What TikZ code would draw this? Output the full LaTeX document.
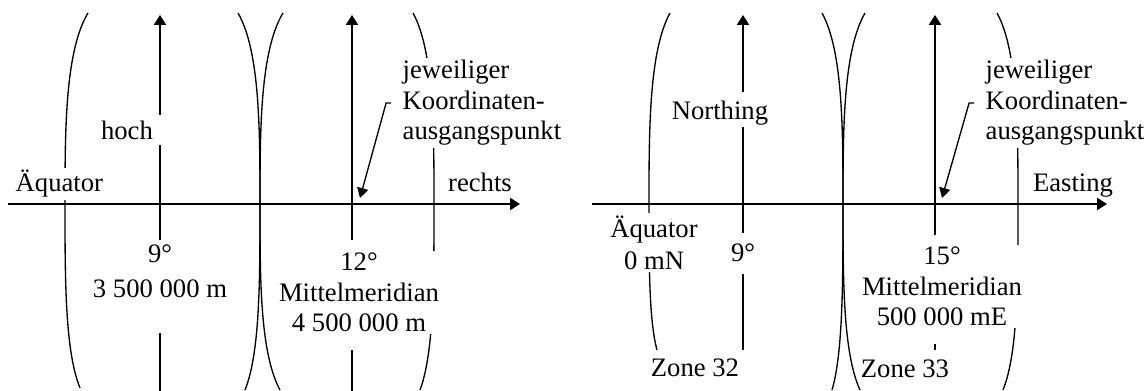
\documentclass[tikz,border=0pt]{standalone}
\usepackage{fontspec}
\setmainfont{Liberation Serif}
\usetikzlibrary{arrows.meta}

\tikzset{
  lbl/.style={fill=white, inner sep=1pt, align=center},
  meridian/.style={semithick},
  achse/.style={thick, -{Triangle[length=4.5pt, width=5.5pt]}},
  pfeil/.style={semithick, -{Triangle[length=4.5pt, width=5pt]}},
}

\begin{document}
\begin{tikzpicture}[x=0.45pt, y=0.45pt, font=\fontsize{12}{13.8}\selectfont]
  \useasboundingbox (0,0) rectangle (1146,391);

  % Zonengrenzen
  \foreach \a/\m/\b/\e in {88/65/80/3, 238/260/245/1, 283/260/280/1, 413/434/420/1,
                           670/649/657/41, 822/843/832/1, 865/843/860/1, 997/1018/1003/1}
    \draw[meridian] (\a, 378) .. controls (\m, 340) and (\m, 260) .. (\m, 187)
      .. controls (\m, {187 - 0.41*(187-\e)}) and (\m, {\e + 0.2*(187-\e)}) .. (\b, \e);

  % linkes Bild
  \node[lbl, anchor=base west] (aeq1) at (13, 199) {Äquator};
  \node[lbl, anchor=base] (hoch) at (127, 251) {hoch};
  \node[lbl, anchor=base] (mm9) at (160, 93) {9°\\[2pt]3 500 000 m};
  \node[lbl, anchor=base] (mm12) at (359, 59) {12°\\Mittelmeridian\\4 500 000 m};
  \node[lbl, anchor=base west, align=left] (k1) at (400, 251) {jeweiliger\\Koordinaten-\\ausgangspunkt};
  \node[lbl, anchor=base] (rechts) at (480, 199) {rechts};

  % rechtes Bild
  \node[lbl, anchor=base] (north) at (720, 271) {Northing};
  \node[lbl, anchor=base] (aeq2) at (654, 121) {Äquator\\[1pt]0 mN};
  \node[lbl, anchor=base] (z9) at (743, 129) {9°};
  \node[lbl, anchor=base] (zone32) at (695, 14) {Zone 32};
  \node[lbl, anchor=base] (mm15) at (942, 65) {15°\\Mittelmeridian\\500 000 mE};
  \node[lbl, anchor=base] (zone33) at (905, 13) {Zone 33};
  \node[lbl, anchor=base west, align=left] (k2) at (983, 251) {jeweiliger\\Koordinaten-\\ausgangspunkt};
  \node[lbl, anchor=base] (east) at (1073, 199) {Easting};

  % Achsen
  \draw[achse] (8, 187) -- (520, 187);
  \draw[achse] (592, 187) -- (1107, 187);

  \draw[thick] (160, 0) -- (160, 58);
  \draw[thick] (160, 151) -- (160, 246);
  \draw[achse] (160, 276) -- (160, 376);
  \draw[thick] (352, 0) -- (352, 41);
  \draw[achse] (352, 151) -- (352, 376);

  \draw[thick] (743, 41) -- (743, 117);
  \draw[thick] (743, 158) -- (743, 264);
  \draw[achse] (743, 299) -- (743, 376);
  \draw[thick] (935, 41) -- (935, 47);
  \draw[achse] (935, 156) -- (935, 376);

  % Koordinatenursprung
  \coordinate (p1) at (360, 193);
  \coordinate (p2) at (942, 193);
  \draw[pfeil] ([xshift=-4pt]k1.west) -- ++(-5, 0) -- (p1);
  \draw[pfeil] ([xshift=-4pt]k2.west) -- ++(-5, 0) -- (p2);
\end{tikzpicture}
\end{document}
